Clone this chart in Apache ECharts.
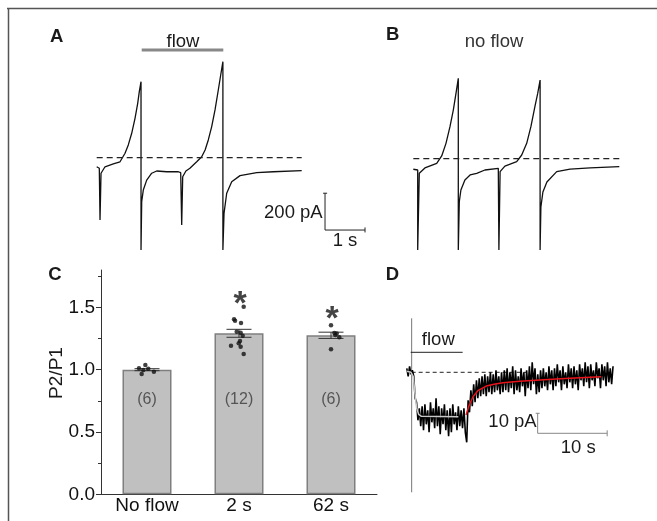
<!DOCTYPE html>
<html>
<head>
<meta charset="utf-8">
<script src="https://cdn.jsdelivr.net/npm/echarts@6/dist/echarts.min.js"></script>
<style>
  html, body { margin: 0; padding: 0; background: #fff; }
  #chart { width: 657px; height: 521px; }
</style>
</head>
<body>
<div id="chart"></div>
<script>
// A: paired pulses with flow (time in s, current in pA, 0 = dashed baseline)
const timeA = [0, 0.065, 0.083, 0.083, 0.108, 0.208, 0.415, 0.583, 0.708, 0.79, 0.875, 0.958, 1.025, 1.065, 1.108, 1.108,
  1.125, 1.165, 1.25, 1.375, 1.5, 1.75, 2.04, 2.1, 2.125, 2.125, 2.15, 2.23, 2.33, 2.5, 2.625, 2.71, 2.79, 2.875, 2.958, 3.04, 3.1, 3.155, 3.155,
  3.183, 3.25, 3.375, 3.583, 4.0, 4.415, 5.125];
const currA = [-49, -57, -57, -337, -84, -49, -34, -22, 24, 69, 132, 213, 294, 357, 411, -499,
  -238, -175, -121, -84, -72, -76, -76, -81, -81, -364, -103, -72, -57, -22, 5, 42, 96, 168, 258, 366, 447, 519, -499,
  -301, -192, -130, -97, -81, -76, -70];

// B: paired pulses without flow
const timeB = [0, 0.11, 0.11, 0.15, 0.29, 0.585, 0.71, 0.817, 0.917, 1.0, 1.068, 1.125, 1.125,
  1.15, 1.19, 1.29, 1.42, 1.585, 1.79, 2.125, 2.14, 2.14, 2.17, 2.29, 2.585, 2.71, 2.835, 2.94, 3.04, 3.11, 3.17, 3.17,
  3.19, 3.24, 3.34, 3.585, 3.92, 4.42, 5.15];
const currB = [-57, -61, -494, -79, -50, -25, 15, 83, 173, 263, 354, 435, -494,
  -232, -169, -115, -88, -79, -61, -52, -52, -494, -70, -40, -16, 20, 83, 173, 281, 353, 425, -494,
  -260, -180, -126, -70, -56, -50, -43];

// C: P2/P1 ratio
const categories = ['No flow', '2 s', '62 s'];
const ratioMean = [1.0, 1.292, 1.276];
const ratioSem = [0.008, 0.032, 0.025];
const nCells = ['(6)', '(12)', '(6)'];
const sigMark = ['', '*', '*'];
const sigLevel = [0, 1.586, 1.466];
const dotsX = [-0.018, -0.087, -0.040, 0.014, 0.075, -0.058,
  1.051, 0.946, 0.957, 1.022, 0.975, 1.018, 1.040, 1.011, 0.997, 1.018, 0.913, 1.051,
  2.0, 2.036, 2.062, 2.09, 2.0, 2.047];
const dotsY = [1.038, 1.011, 0.998, 1.008, 0.984, 0.966,
  1.506, 1.404, 1.393, 1.375, 1.305, 1.297, 1.273, 1.230, 1.212, 1.185, 1.193, 1.126,
  1.356, 1.295, 1.290, 1.260, 1.164, 1.278];
const yTicks = [0, 0.5, 1.0, 1.5];
const yMinorTicks = [0.25, 0.75, 1.25, 1.75];

// D: slow current during flow (sampled every 0.2 s from -0.7 s)
const startD = -0.7;
const stepD = 0.2;
const currD = [
  2, -2, 3, -1, 1, -2, -13, -15, -24, -18,
  -27, -17, -29, -16, -26, -19, -30, -15, -25, -18,
  -28, -13, -27, -17, -31, -18, -26, -16, -29, -19,
  -32, -18, -30, -16, -26, -20, -29, -17, -27, -19,
  -28, -18, -30, -35, -14, -20, -9, -17, -6, -15,
  -4, -13, -3, -12, -2, -11, -1, -12, -2, -10,
  0, -11, -1, -10, 1, -9, -2, -11, 0, -10,
  1, -9, 2, -10, 0, -8, 3, -11, 1, -9,
  -2, -10, 2, -7, 0, -12, 1, -8, 3, -9,
  5, -6, 2, -11, -1, -10, 1, -8, 2, -7,
  0, -9, 3, -6, 1, -9, 2, -7, 4, -5,
  1, -9, 3, -6, 0, -8, 4, -5, 2, -8,
  3, -6, 1, -9, 4, -4, 2, -7, 5, -5,
  3, -8, 4, -4, 1, -7, 5, -3, 2, -8,
  4, -4, 3, -7, 5, -5, 2, -6, 3
];
const fitDropT = [-0.7, -0.1, 0.23, 0.47, 0.72, 1.0, 1.4, 6.7];
const fitDropV = [0.5, 0, -2.2, -10.5, -18, -21, -22, -22.2];
const fitRiseT = [7.8, 8.2, 8.8, 9.5, 10.7, 12, 13.1, 15.5, 18.4, 22, 27.2];
const fitRiseV = [-21.4, -17, -12.2, -9.2, -6.9, -5.8, -5.2, -4.5, -3.85, -3.1, -2.2];

const FONT = 'Liberation Sans, Arial, sans-serif';
const zip = (xs, ys) => xs.map((x, i) => [x, ys[i]]);

// axis pairs: A -> x0/y0, B -> x1/y1, D -> x4/y4
function seg(axis, pts, color, width, dash) {
  return {
    type: 'line', xAxisIndex: axis, yAxisIndex: axis, data: pts,
    showSymbol: false, silent: true, z: 3,
    lineStyle: { color: color, width: width, type: dash || 'solid' }
  };
}

function label(text, x, y, opts) {
  opts = opts || {};
  return {
    type: 'text', x: x, y: y, rotation: opts.rot || 0,
    style: {
      text: text, fill: opts.color || '#1a1a1a',
      font: (opts.bold ? 'bold ' : '') + (opts.size || 18.5) + 'px ' + FONT,
      textAlign: opts.align || 'center', textVerticalAlign: 'middle'
    }
  };
}

const hidden = (grid, min, max) => ({ type: 'value', gridIndex: grid, min: min, max: max, show: false });

const option = {
  animation: false,
  grid: [
    { left: 96.7, top: 28.2, width: 280, height: 222 },
    { left: 413.3, top: 29.2, width: 240, height: 222 },
    { left: 101, top: 270, width: 276, height: 224.3 },
    { left: 404.7, top: 312.3, width: 216, height: 184 },
    { left: 101, top: 270, width: 276, height: 224.3 }
  ],
  xAxis: [
    hidden(0, 0, 7),
    hidden(1, 0, 6),
    {
      type: 'category', gridIndex: 2, data: categories,
      axisLine: { onZero: false, lineStyle: { color: '#333', width: 1 } },
      axisTick: { show: false },
      axisLabel: { color: '#111', fontSize: 19, fontFamily: FONT, margin: 2 }
    },
    hidden(4, -0.5, 2.5),
    hidden(3, -1, 30)
  ],
  yAxis: [
    hidden(0, -500, 700),
    hidden(1, -500, 700),
    {
      type: 'value', gridIndex: 2, min: 0, max: 1.8, position: 'left',
      splitLine: { show: false },
      axisLine: { show: true, onZero: false, lineStyle: { color: '#333', width: 1 } },
      axisTick: { show: true, length: 5, customValues: yTicks, lineStyle: { color: '#333' } },
      axisLabel: {
        customValues: yTicks, color: '#111', fontSize: 19, fontFamily: FONT, margin: 6,
        formatter: v => v.toFixed(1)
      }
    },
    {
      type: 'value', gridIndex: 2, min: 0, max: 1.8, position: 'left',
      splitLine: { show: false }, axisLine: { show: false, onZero: false }, axisLabel: { show: false },
      axisTick: { show: true, length: 3, customValues: yMinorTicks, lineStyle: { color: '#333' } }
    },
    hidden(3, -62, 30),
    hidden(4, 0, 1.8)
  ],
  graphic: [
    { type: 'line', shape: { x1: 7, y1: 8.5, x2: 657, y2: 8.5 }, style: { stroke: '#555', lineWidth: 1.5 } },
    { type: 'line', shape: { x1: 8.5, y1: 8, x2: 8.5, y2: 521 }, style: { stroke: '#555', lineWidth: 1.5 } },
    label('A', 56.7, 37, { bold: true }),
    label('B', 392.7, 35, { bold: true }),
    label('C', 55, 275, { bold: true }),
    label('D', 392.5, 275, { bold: true }),
    label('flow', 183, 42),
    label('no flow', 494, 41.5, { color: '#333' }),
    label('200 pA', 322.7, 212.7, { align: 'right' }),
    label('1 s', 345, 240.5),
    label('P2/P1', 56.7, 373, { rot: Math.PI / 2, size: 19 }),
    label('flow', 438.3, 340),
    label('10 pA', 536.7, 421.7, { align: 'right' }),
    label('10 s', 578.3, 447.7)
  ],
  series: [
    // A
    seg(0, zip(timeA, currA), '#111', 1.3),
    seg(0, [[0, 0], [5.125, 0]], '#222', 1.2, [6, 4]),
    seg(0, [[1.125, 582], [3.165, 582]], '#888', 3),
    seg(0, [[5.708, -192], [5.708, -391], [6.708, -391]], '#222', 1),
    seg(0, [[5.66, -192], [5.76, -192]], '#222', 1),
    seg(0, [[6.708, -377], [6.708, -404]], '#222', 1),
    // B
    seg(1, zip(timeB, currB), '#111', 1.3),
    seg(1, [[0, 0], [5.15, 0]], '#222', 1.2, [6, 4]),
    // C
    {
      type: 'bar', xAxisIndex: 2, yAxisIndex: 2, data: ratioMean, barWidth: 49,
      itemStyle: { color: '#c0c0c0', borderColor: '#7f7f7f', borderWidth: 1.5 }
    },
    {
      type: 'custom', xAxisIndex: 2, yAxisIndex: 2, z: 4, data: ratioMean,
      renderItem: (params, api) => {
        const i = params.dataIndex;
        const hi = api.coord([i, ratioMean[i] + ratioSem[i]]);
        const lo = api.coord([i, ratioMean[i] - ratioSem[i]]);
        const hw = 12.5;
        const st = { stroke: '#333', lineWidth: 1 };
        return {
          type: 'group', children: [
            { type: 'line', shape: { x1: hi[0], y1: hi[1], x2: lo[0], y2: lo[1] }, style: st },
            { type: 'line', shape: { x1: hi[0] - hw, y1: hi[1], x2: hi[0] + hw, y2: hi[1] }, style: st },
            { type: 'line', shape: { x1: lo[0] - hw, y1: lo[1], x2: lo[0] + hw, y2: lo[1] }, style: st }
          ]
        };
      }
    },
    {
      type: 'scatter', xAxisIndex: 3, yAxisIndex: 5, data: zip(dotsX, dotsY), z: 5,
      symbolSize: 4.5, itemStyle: { color: '#111' }
    },
    {
      type: 'custom', xAxisIndex: 2, yAxisIndex: 2, z: 5, data: ratioMean,
      renderItem: (params, api) => {
        const i = params.dataIndex;
        const p = api.coord([i, 0.76]);
        const kids = [{
          type: 'text', x: p[0], y: p[1],
          style: { text: nCells[i], fill: '#555', font: '16px ' + FONT, textAlign: 'center', textVerticalAlign: 'middle' }
        }];
        if (sigMark[i]) {
          const s = api.coord([i, sigLevel[i]]);
          kids.push({
            type: 'text', x: s[0] + 1, y: s[1] + 8,
            style: { text: sigMark[i], fill: '#444', font: 'bold 34px ' + FONT, textAlign: 'center', textVerticalAlign: 'middle' }
          });
        }
        return { type: 'group', children: kids };
      }
    },
    // D
    seg(4, [[0, 27], [0, -60]], '#777', 1),
    seg(4, [[-0.14, 10], [7.32, 10]], '#222', 1),
    seg(4, [[0, 0], [16.5, 0]], '#222', 1, [4, 3]),
    seg(4, currD.map((v, i) => [startD + i * stepD, v]), '#000', 1.6),
    Object.assign(seg(4, zip(fitDropT, fitDropV), '#c8c8c8', 1.5), { z: 4 }),
    Object.assign(seg(4, zip(fitRiseT, fitRiseV), '#e8141b', 1.5), { z: 4 }),
    seg(4, [[18.08, -20.5], [18.08, -30.5], [28.06, -30.5]], '#888', 1),
    seg(4, [[17.8, -20.5], [18.37, -20.5]], '#888', 1),
    seg(4, [[28.06, -29], [28.06, -32]], '#888', 1)
  ]
};

const chart = echarts.init(document.getElementById('chart'));
chart.setOption(option);
</script>
</body>
</html>
